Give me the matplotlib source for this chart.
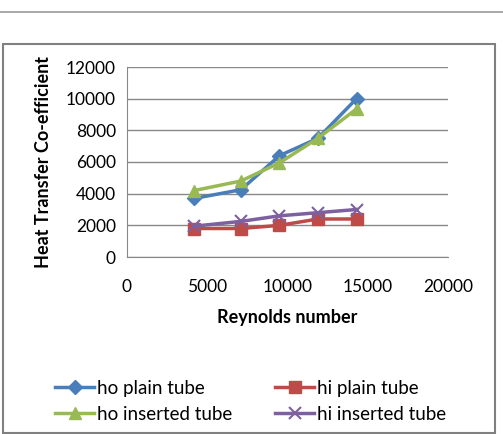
import matplotlib
matplotlib.use('Agg')
import matplotlib.pyplot as plt
from matplotlib.patches import Rectangle
from matplotlib.lines import Line2D

plt.rcParams['font.family'] = ['Lato', 'DejaVu Sans']

# data
reynolds = [4200, 7100, 9500, 11900, 14300]
ho_plain = [3700, 4250, 6400, 7500, 10000]
hi_plain = [1800, 1800, 2000, 2400, 2400]
ho_inserted = [4200, 4800, 5950, 7500, 9350]
hi_inserted = [1950, 2250, 2600, 2800, 3000]

fig = plt.figure(figsize=(5.03, 4.34), dpi=100)
W, H = 503, 434

# thin rule at the top and chart frame
fig.add_artist(Line2D([0, 1], [1 - 12 / H, 1 - 12 / H], color='#999999', lw=1.2))
fig.add_artist(Rectangle((3 / W, 1 / H), 492 / W, (434 - 44 - 1) / H,
                         fill=False, ec='#808080', lw=1.5))

ax = fig.add_axes([127 / W, 1 - 257 / H, 321 / W, 190 / H])

l1, = ax.plot(reynolds, ho_plain, color='#4a7ebb', marker='D', ms=7, lw=2.5, label='ho plain tube')
l2, = ax.plot(reynolds, hi_plain, color='#be4b48', marker='s', ms=8, lw=2.5, label='hi plain tube')
l3, = ax.plot(reynolds, ho_inserted, color='#98b954', marker='^', ms=9, lw=2.5, label='ho inserted tube')
l4, = ax.plot(reynolds, hi_inserted, color='#7d60a0', marker='x', ms=9, mew=1.5, lw=2.5, label='hi inserted tube')

ax.set_xlim(0, 20000)
ax.set_ylim(0, 12000)
ax.set_xticks([0, 5000, 10000, 15000, 20000])
ax.set_yticks(range(0, 12001, 2000))
ax.grid(axis='y', color='#888888', lw=1)
ax.set_axisbelow(True)
for s in ['top', 'right']:
    ax.spines[s].set_visible(False)
for s in ['left', 'bottom']:
    ax.spines[s].set_color('#888888')
ax.tick_params(length=0, labelsize=12.5, pad=8)
ax.tick_params(axis='x', pad=16)

ax.set_xlabel('Reynolds number', fontsize=13, fontweight='bold', labelpad=10)
ax.set_ylabel('Heat Transfer Co-efficient', fontsize=13, fontweight='bold', labelpad=10)

# legend: two columns placed by hand, rows ho/hi
for handles, x0 in [([l1, l3], 55), ([l2, l4], 275)]:
    fig.legend(handles, [h.get_label() for h in handles], loc='upper left',
               bbox_to_anchor=(x0 / W, 1 - 380 / H), ncol=1, frameon=False,
               fontsize=13.5, handlelength=2.1, handletextpad=0.15,
               labelspacing=0.48, borderpad=0, borderaxespad=0)

plt.savefig('out.png', dpi=100)
